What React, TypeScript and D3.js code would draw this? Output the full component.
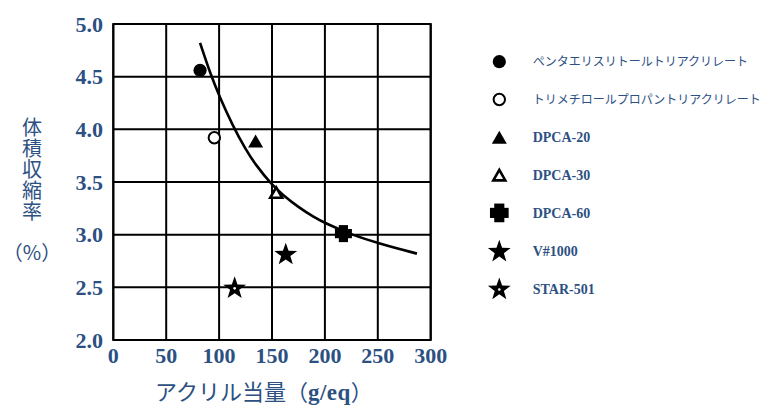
import React from "react";
import * as d3 from "d3";

const seriesNames = [
  "ペンタエリスリトールトリアクリレート",
  "トリメチロールプロパントリアクリレート",
  "DPCA-20",
  "DPCA-30",
  "DPCA-60",
  "V#1000",
  "STAR-501",
];
const seriesShapes = ["circleFilled", "circleOpen", "triFilled", "triOpen", "cross", "star", "starDot"];
const pointX = [82, 95.5, 134.5, 154, 217.5, 163, 114.7];
const pointY = [4.56, 3.92, 3.89, 3.4, 3.01, 2.82, 2.5];

const curveX = [82, 92, 100, 113, 125, 134, 150, 160, 175, 190, 200, 225, 250, 287];
const curveY = [4.82, 4.52, 4.32, 4.03, 3.81, 3.67, 3.47, 3.38, 3.26, 3.165, 3.11, 3.0, 2.92, 2.82];

const xTicks = [0, 50, 100, 150, 200, 250, 300];
const yTicks = [2.0, 2.5, 3.0, 3.5, 4.0, 4.5, 5.0];

const xTitleJa = "アクリル当量";
const xTitleUnit = "g/eq";
const yTitle = "体積収縮率";
const yTitleUnit = "（%）";

const BLUE = "#2c5082";
const SERIF = "'Liberation Serif', 'Times New Roman', serif";
const CJK = "'Noto Sans CJK JP', sans-serif";

function Marker({ shape, x, y, scale = 1 }: { shape: string; x: number; y: number; scale?: number }) {
  const s = scale;
  if (shape === "circleFilled") return <circle cx={x} cy={y} r={6.6 * s} fill="#000" />;
  if (shape === "circleOpen")
    return <circle cx={x} cy={y} r={5.7 * s} fill="#fff" stroke="#000" strokeWidth={2} />;
  if (shape === "triFilled" || shape === "triOpen") {
    const w = 15 * s, h = 13 * s;
    const pts = `${x},${y - h / 2} ${x + w / 2},${y + h / 2} ${x - w / 2},${y + h / 2}`;
    if (shape === "triFilled") return <polygon points={pts} fill="#000" />;
    const w2 = 12 * s, h2 = 10.5 * s;
    const p2 = `${x},${y - h2 / 2} ${x + w2 / 2},${y + h2 / 2} ${x - w2 / 2},${y + h2 / 2}`;
    return <polygon points={p2} fill="#fff" stroke="#000" strokeWidth={2.6} strokeLinejoin="miter" />;
  }
  if (shape === "cross") {
    const a = 8.5 * s, t = 4.6 * s;
    return (
      <g fill="#000">
        <rect x={x - a} y={y - t} width={2 * a} height={2 * t} />
        <rect x={x - t} y={y - a} width={2 * t} height={2 * a} />
      </g>
    );
  }
  if (shape === "star" || shape === "starDot") {
    const R = 12 * s, r = 4.8 * s;
    const pts: string[] = [];
    for (let i = 0; i < 10; i++) {
      const ang = -Math.PI / 2 + (i * Math.PI) / 5;
      const rad = i % 2 === 0 ? R : r;
      pts.push(`${x + rad * Math.cos(ang)},${y + rad * Math.sin(ang) + 1}`);
    }
    return (
      <g>
        <polygon points={pts.join(" ")} fill="#000" />
        {shape === "starDot" && <circle cx={x} cy={y + 1} r={1.3} fill="#fff" />}
      </g>
    );
  }
  return null;
}

export default function App() {
  const W = 763, H = 406;
  const left = 113.3, right = 430.7, top = 24, bottom = 340;
  const x = d3.scaleLinear().domain([0, 300]).range([left, right]);
  const y = d3.scaleLinear().domain([2, 5]).range([bottom, top]);

  const line = d3
    .line<number>()
    .x((_, i) => x(curveX[i]))
    .y((d) => y(d))
    .curve(d3.curveBasis);
  const curvePath = line(curveY) || "";

  const legendX = 499.3;
  const legendTextX = 532.7;
  const legendY0 = 61.7;
  const legendStep = 37.8;

  return (
    <svg width={W} height={H} style={{ position: "absolute", left: 0, top: 0, background: "#fff" }}>
      <rect x={0} y={0} width={W} height={H} fill="#fff" />
      {/* grid */}
      {xTicks.map((t) => (
        <line key={"gx" + t} x1={x(t)} x2={x(t)} y1={top} y2={bottom} stroke="#000" strokeWidth={2} />
      ))}
      {yTicks.map((t) => (
        <line key={"gy" + t} x1={left} x2={right} y1={y(t)} y2={y(t)} stroke="#000" strokeWidth={2} />
      ))}
      <rect x={left} y={top} width={right - left} height={bottom - top} fill="none" stroke="#000" strokeWidth={2} />

      {/* tick labels */}
      {xTicks.map((t) => (
        <text
          key={"tx" + t}
          x={x(t)}
          y={363}
          textAnchor="middle"
          fontFamily={SERIF}
          fontWeight="bold"
          fontSize={22}
          fill={BLUE}
        >
          {t}
        </text>
      ))}
      {yTicks.map((t) => (
        <text
          key={"ty" + t}
          x={103}
          y={y(t) + 7.5}
          textAnchor="end"
          fontFamily={SERIF}
          fontWeight="bold"
          fontSize={22}
          fill={BLUE}
        >
          {t.toFixed(1)}
        </text>
      ))}

      {/* axis titles */}
      <text x={155} y={400} fill={BLUE} fontSize={22}>
        <tspan fontFamily={CJK}>{xTitleJa}</tspan>
        <tspan fontFamily={CJK}>（</tspan>
        <tspan fontFamily={SERIF} fontWeight="bold" fontSize={23} letterSpacing={0.5}>
          {xTitleUnit}
        </tspan>
        <tspan fontFamily={CJK}>）</tspan>
      </text>
      <text
        x={32}
        y={117}
        fontFamily={CJK}
        fontSize={20}
        fill={BLUE}
        letterSpacing={1}
        style={{ writingMode: "vertical-rl" }}
      >
        {yTitle}
      </text>
      <text x={32} y={260} textAnchor="middle" fontFamily={CJK} fontSize={20} fill={BLUE}>
        {yTitleUnit}
      </text>

      {/* fitted curve */}
      <path d={curvePath} fill="none" stroke="#000" strokeWidth={2.6} />

      {/* points */}
      {seriesNames.map((n, i) => (
        <Marker key={"p" + i} shape={seriesShapes[i]} x={x(pointX[i])} y={y(pointY[i])} />
      ))}

      {/* legend */}
      {seriesNames.map((n, i) => {
        const ly = legendY0 + i * legendStep;
        const isJa = i < 2;
        return (
          <g key={"lg" + i}>
            <Marker shape={seriesShapes[i]} x={legendX} y={ly} scale={i === 4 ? 1.1 : 1} />
            <text
              x={legendTextX}
              y={ly + (isJa ? 4.5 : 5)}
              fontFamily={isJa ? CJK : SERIF}
              fontWeight={isJa ? "normal" : "bold"}
              fontSize={isJa ? 12 : 14}
              fill={BLUE}
            >
              {n}
            </text>
          </g>
        );
      })}
    </svg>
  );
}
